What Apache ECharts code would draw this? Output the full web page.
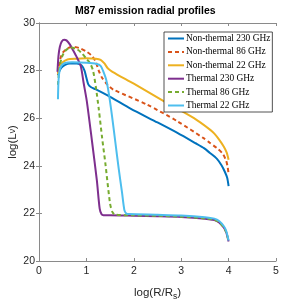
<!DOCTYPE html>
<html><head><meta charset="utf-8">
<script src="https://cdn.jsdelivr.net/npm/echarts@6/dist/echarts.min.js"></script>
<style>html,body{margin:0;padding:0;background:#fff}#c{width:305px;height:305px}</style>
</head><body><div id="c"></div>
<script>
const seriesNames = ['Non-thermal 230 GHz','Non-thermal 86 GHz','Non-thermal 22 GHz','Thermal 230 GHz','Thermal 86 GHz','Thermal 22 GHz'];
const xTicks = [0,1,2,3,4,5];
const yTicks = [20,22,24,26,28,30];

const nt230 = [[0.40,27.8],[0.43,27.98],[0.47,28.12],[0.55,28.24],[0.65,28.3],[0.8,28.3],[0.9,28.22],[0.96,28.0],[1.0,27.7],[1.04,27.42],[1.1,27.3],[1.19,27.22],[1.5,26.9],[1.93,26.4],[2.5,25.82],[2.92,25.38],[3.3,24.95],[3.48,24.74],[3.6,24.55],[3.75,24.3],[3.85,24.02],[3.92,23.75],[3.97,23.5],[4.0,23.15]];
const nt86 = [[0.40,27.9],[0.45,28.5],[0.5,28.75],[0.6,28.93],[0.7,29.0],[0.85,28.95],[1.0,28.8],[1.1,28.65],[1.19,28.4],[1.26,28.0],[1.33,27.7],[1.45,27.4],[1.57,27.2],[2.28,26.57],[2.92,25.87],[3.48,25.15],[3.6,24.97],[3.75,24.75],[3.88,24.5],[3.95,24.2],[3.98,23.95],[4.0,23.65]];
const nt22 = [[0.40,27.85],[0.44,28.15],[0.5,28.35],[0.6,28.47],[0.8,28.5],[1.0,28.52],[1.2,28.5],[1.3,28.45],[1.38,28.3],[1.45,28.1],[1.55,27.95],[2.0,27.45],[2.63,26.72],[3.27,26.0],[3.62,25.5],[3.7,25.35],[3.8,25.1],[3.9,24.8],[3.96,24.55],[4.0,24.25]];
const th230 = [[0.39,27.95],[0.41,28.6],[0.44,29.0],[0.48,29.22],[0.53,29.3],[0.58,29.27],[0.65,29.1],[0.72,28.85],[0.8,28.55],[0.88,28.2],[0.94,27.5],[1.01,26.7],[1.12,25.0],[1.22,23.4],[1.28,22.2],[1.32,21.96],[1.36,21.92],[1.5,21.92],[2.0,21.9],[2.5,21.88],[3.0,21.85],[3.5,21.78],[3.7,21.72],[3.8,21.62],[3.9,21.4],[3.95,21.2],[4.0,20.82]];
const th86 = [[0.40,27.4],[0.43,28.1],[0.48,28.55],[0.55,28.82],[0.66,28.97],[0.8,28.9],[0.9,28.74],[1.0,28.5],[1.08,28.3],[1.14,28.0],[1.2,27.3],[1.26,26.4],[1.33,25.2],[1.4,24.1],[1.5,22.4],[1.55,22.05],[1.6,21.95],[2.0,21.92],[2.5,21.9],[3.0,21.86],[3.5,21.79],[3.7,21.73],[3.8,21.63],[3.9,21.41],[3.95,21.21],[4.0,20.83]];
const th22 = [[0.40,26.8],[0.41,27.5],[0.43,27.95],[0.47,28.2],[0.55,28.32],[0.7,28.35],[1.0,28.33],[1.22,28.28],[1.3,28.2],[1.35,28.0],[1.42,27.6],[1.48,26.95],[1.54,26.1],[1.61,25.0],[1.68,23.9],[1.75,22.9],[1.8,22.15],[1.84,22.0],[1.9,21.97],[2.5,21.94],[3.0,21.91],[3.5,21.84],[3.7,21.78],[3.8,21.68],[3.9,21.46],[3.95,21.26],[4.0,20.86]];

const colors = ['#0072BD','#D95319','#EDB120','#7E2F8E','#77AC30','#4DBEEE'];
const dashed = [false,true,false,false,true,false];
const allData = [nt230, nt86, nt22, th230, th86, th22];

const chart = echarts.init(document.getElementById('c'), null, {renderer:'canvas'});
const axisCol = '#8a8a8a';
const sans = 'Liberation Sans, Arial, sans-serif';
const labelFont = {color:'#262626', fontSize:10.5, fontFamily:sans};
const grid = {left:39, right:29, top:23, bottom:44, containLabel:false, outerBoundsMode:'none'};
const option = {
  animation:false,
  title:{text:'M87 emission radial profiles', left:75, top:6, padding:0,
    textStyle:{fontSize:10.5, fontWeight:'bold', color:'#000', fontFamily:sans}},
  grid: grid,
  legend:{
    orient:'vertical', left:164, top:32, data:seriesNames,
    backgroundColor:'#fff', borderColor:'#262626', borderWidth:0.8,
    padding:[2,2,2,3], itemGap:4.4, itemWidth:16, itemHeight:10,
    itemStyle:{opacity:0},
    textStyle:{fontSize:9.4, color:'#000', fontFamily:'Liberation Serif, Times New Roman, serif', padding:[0,0,0,-3]}
  },
  xAxis:[{
    type:'value', min:0, max:5, interval:1,
    name:'log(R/R{sub|s})', nameLocation:'middle', nameGap:23, nameMoveOverlap:false,
    nameTextStyle:{fontSize:11.5, color:'#262626', fontFamily:sans, verticalAlign:'top',
      rich:{sub:{fontSize:8.5, fontFamily:sans, verticalAlign:'bottom', padding:[8,0,0,0], color:'#262626'}}},
    axisLine:{lineStyle:{color:axisCol, width:1}},
    axisTick:{inside:true, length:3, lineStyle:{color:axisCol}},
    axisLabel:{...labelFont, margin:5},
    splitLine:{show:false}
  },{
    type:'value', min:0, max:5, interval:1, position:'top',
    axisLine:{lineStyle:{color:axisCol, width:1}},
    axisTick:{inside:true, length:3, lineStyle:{color:axisCol}},
    axisLabel:{show:false}, splitLine:{show:false}
  }],
  yAxis:[{
    type:'value', min:20, max:30, interval:2,
    name:'log(L{sub|ν})', nameLocation:'middle', nameGap:20, nameRotate:90, nameMoveOverlap:false,
    nameTextStyle:{fontSize:11.5, color:'#262626', fontFamily:sans,
      rich:{sub:{fontSize:8.5, fontFamily:sans, color:'#262626'}}},
    axisLine:{lineStyle:{color:axisCol, width:1}},
    axisTick:{inside:true, length:3, lineStyle:{color:axisCol}},
    axisLabel:{...labelFont, margin:4},
    splitLine:{show:false}
  },{
    type:'value', min:20, max:30, interval:2, position:'right',
    axisLine:{lineStyle:{color:axisCol, width:1}},
    axisTick:{inside:true, length:3, lineStyle:{color:axisCol}},
    axisLabel:{show:false}, splitLine:{show:false}
  }],
  series: seriesNames.map((n,i)=>({
    name:n, type:'line', data:allData[i], xAxisIndex:0, yAxisIndex:0,
    showSymbol:false, symbol:'none', smooth:0.25,
    color:colors[i],
    lineStyle:{color:colors[i], width:2, type: dashed[i] ? [4,3] : 'solid'}
  }))
};
chart.setOption(option);
</script></body></html>
